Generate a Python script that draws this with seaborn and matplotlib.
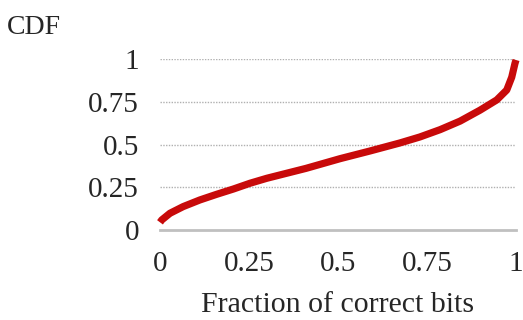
import matplotlib
matplotlib.use("Agg")
import matplotlib.pyplot as plt
import seaborn as sns
import pandas as pd

# Data
fraction = [0.0, 0.005, 0.028, 0.065, 0.112, 0.159, 0.206, 0.253, 0.30, 0.41, 0.506,
            0.59, 0.674, 0.73, 0.787, 0.843, 0.899, 0.946, 0.974, 0.988, 0.997, 1.0]
cdf      = [0.045, 0.059, 0.098, 0.137, 0.176, 0.209, 0.24, 0.274, 0.303, 0.361, 0.418,
            0.463, 0.51, 0.545, 0.588, 0.638, 0.702, 0.762, 0.82, 0.895, 0.975, 0.996]
xticks = [0, 0.25, 0.5, 0.75, 1]
xticklabels = ["0", "0.25", "0.5", "0.75", "1"]
yticks = [0, 0.25, 0.5, 0.75, 1]
yticklabels = ["0", "0.25", "0.5", "0.75", "1"]

sns.set_style("white")
plt.rcParams['font.family'] = ['Liberation Serif', 'DejaVu Serif']

df = pd.DataFrame({"fraction": fraction, "cdf": cdf})

fig = plt.figure(figsize=(5.23, 3.2), dpi=100)
ax = fig.add_axes([160/523, 90/320, 356/523, 170.7/320])

sns.lineplot(data=df, x="fraction", y="cdf", ax=ax, color="#c80a0a", linewidth=5.2,
             solid_capstyle="butt", solid_joinstyle="round", clip_on=False, zorder=5)

ax.set_xlim(0, 1)
ax.set_ylim(0, 1)
ax.set_xticks(xticks)
ax.set_xticklabels(xticklabels)
ax.set_yticks(yticks)
ax.set_yticklabels(yticklabels)

for y in yticks[1:]:
    ax.axhline(y, color="#b0b0b0", linewidth=1.0, linestyle=(0, (1, 1)), zorder=1)

for s in ["left", "right", "top"]:
    ax.spines[s].set_visible(False)
ax.spines["bottom"].set_color("#c0c0c0")
ax.spines["bottom"].set_linewidth(2.0)

ax.tick_params(axis="x", direction="in", length=8, width=1.5, color="#c0c0c0",
               labelsize=21, pad=15)
ax.tick_params(axis="y", length=0, labelsize=21, pad=15)

ax.set_xlabel("Fraction of correct bits", fontsize=21.5, labelpad=11)
ax.set_ylabel("")
fig.text(7/523, 1 - 34/320, "CDF", fontsize=20, ha="left", va="baseline")

fig.savefig("out.png", dpi=100)
